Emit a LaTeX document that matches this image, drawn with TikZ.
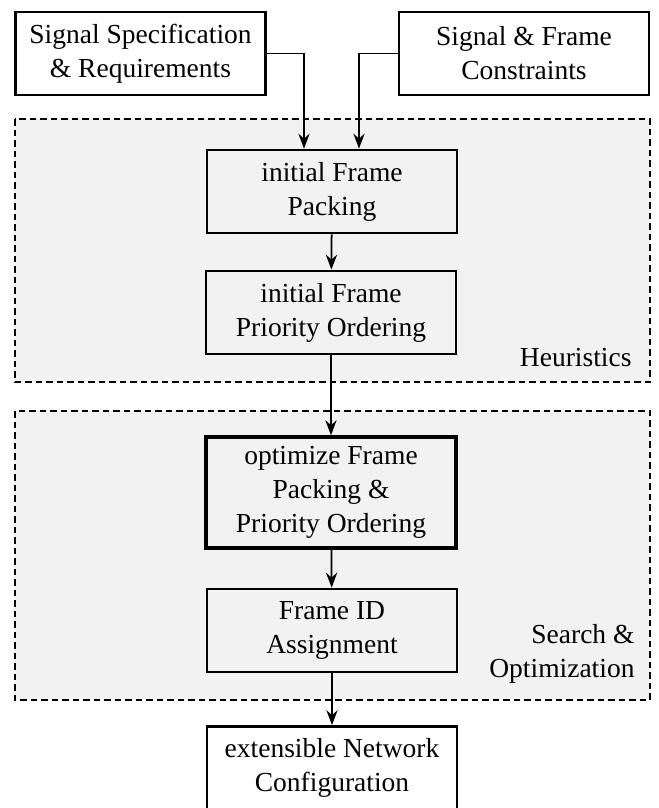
\documentclass[tikz,border=0pt]{standalone}
\usepackage{fontspec}
\setmainfont{Liberation Serif}
\usetikzlibrary{arrows.meta}

\begin{document}
\begin{tikzpicture}[x=0.4pt,y=-0.4pt,
        box/.style={draw,line width=1.1pt,minimum width=100pt,minimum height=33.2pt,
                    inner sep=0pt,align=center,font=\fontsize{11}{13.6}\selectfont},
        region/.style={draw,fill=black!5,line width=0.7pt,dash pattern=on 2.7pt off 1.5pt},
        lbl/.style={inner sep=0pt,align=right,font=\fontsize{11}{13.6}\selectfont},
        arr/.style={line width=0.7pt,-{Stealth[length=6pt,width=4.5pt,inset=2pt]}}]
            \useasboundingbox (0,0) rectangle (659,808);
            % the two shaded stages
            \draw[region] (15,119) rectangle (650,382);
            \draw[region] (15,411) rectangle (650,700);
            \node[lbl,anchor=base east] (heur) at (632,366) {Heuristics};
            \node[lbl,anchor=south east] (search) at (635,684) {Search \&\\Optimization};
            % inputs
            \node[box] (spec) at (140.5,53.5) {Signal Specification\\\& Requirements};
            \node[box] (cons) at (524,53.5) {Signal \& Frame\\Constraints};
            % steps
            \node[box] (pack) at (332,191.5) {initial Frame\\Packing};
            \node[box] (prio) at (331,312.5) {initial Frame\\Priority Ordering};
            \node[box,line width=1.4pt,minimum height=44.4pt] (opt) at (331,492.5)
                {optimize Frame\\Packing \&\\Priority Ordering};
            \node[box] (fid) at (332,630.5) {Frame ID\\Assignment};
            \node[box] (conf) at (332,768) {extensible Network\\Configuration};
            % connectors
            \draw[arr] (spec.east) -| ([xshift=-11.2pt]pack.north);
            \draw[arr] (cons.west) -| ([xshift=10.8pt]pack.north);
            \draw[arr] (pack) -- (prio);
            \draw[arr] (prio) -- (opt);
            \draw[arr] (opt) -- (fid);
            \draw[arr] (fid) -- (conf);
        \end{tikzpicture}
\end{document}
